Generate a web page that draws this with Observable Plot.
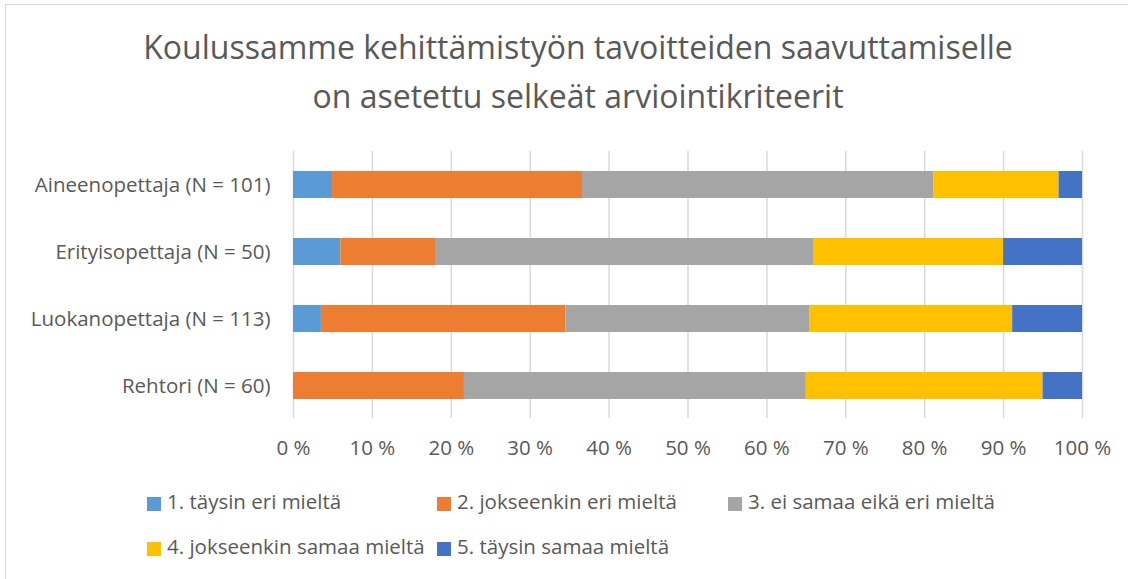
<!DOCTYPE html>
<html><head><meta charset="utf-8">
<script src="https://cdn.jsdelivr.net/npm/d3@7"></script>
<script src="https://cdn.jsdelivr.net/npm/@observablehq/plot@0.6"></script>
<style>
body{margin:0;background:#fff;font-family:"Open Sans",sans-serif;width:1128px;height:579px;overflow:hidden;position:relative}
#frame{position:absolute;left:5px;top:4px;width:1200px;height:600px;border:1.5px solid #d9d9d9;box-sizing:border-box}
#title{position:absolute;left:0;width:1156px;top:22px;text-align:center;font-size:32px;color:#595959;line-height:49px}
#chart{position:absolute;left:0;top:140px}
.leg{position:absolute;font-size:20.5px;color:#595959;white-space:nowrap;line-height:20px}
.sw{position:absolute;left:0;top:3px;width:14px;height:14px}
.lt{position:absolute;left:20px;top:-3px}
</style></head>
<body>
<div id="frame"></div>
<div id="title">Koulussamme kehittämistyön tavoitteiden saavuttamiselle<br>on asetettu selkeät arviointikriteerit</div>
<div id="chart"></div>
<div id="legend"></div>
<script>
const categories = ["Aineenopettaja (N = 101)", "Erityisopettaja (N = 50)", "Luokanopettaja (N = 113)", "Rehtori (N = 60)"];
const series = ["1. täysin eri mieltä", "2. jokseenkin eri mieltä", "3. ei samaa eikä eri mieltä", "4. jokseenkin samaa mieltä", "5. täysin samaa mieltä"];
const colors = ["#5B9BD5", "#ED7D31", "#A5A5A5", "#FFC000", "#4472C4"];
// response counts per category (same order as categories)
const s1 = [5, 3, 4, 0];
const s2 = [32, 6, 35, 13];
const s3 = [45, 24, 35, 26];
const s4 = [16, 12, 29, 18];
const s5 = [3, 5, 10, 3];
const xTicks = [0, 0.1, 0.2, 0.3, 0.4, 0.5, 0.6, 0.7, 0.8, 0.9, 1];

const seriesValues = [s1, s2, s3, s4, s5];
const table = [];
series.forEach((s, i) => categories.forEach((c, j) => table.push({category: c, series: s, value: seriesValues[i][j]})));

const chart = Plot.plot({
  width: 1128, height: 340,
  marginLeft: 293, marginRight: 46, marginTop: 11, marginBottom: 62,
  x: {domain: [0, 1], ticks: xTicks, tickFormat: d => Math.round(d * 100) + " %", tickSize: 0, tickPadding: 22, label: null},
  y: {domain: categories, paddingInner: 0.6, paddingOuter: 0.29, tickSize: 0, tickPadding: 23, label: null},
  color: {domain: series, range: colors},
  style: {fontFamily: "Open Sans", fontSize: "20.5px", color: "#595959", background: "transparent"},
  marks: [
    Plot.gridX(xTicks, {stroke: "#d9d9d9", strokeWidth: 1.5, strokeOpacity: 1}),
    Plot.barX(table, Plot.stackX({x: "value", y: "category", fill: "series", offset: "normalize", order: series}))
  ]
});
document.getElementById("chart").appendChild(chart);

const legPos = [[147, 494], [437, 494], [728, 494], [147, 539], [437, 539]];
const legend = document.getElementById("legend");
series.forEach((s, i) => {
  const d = document.createElement("div");
  d.className = "leg";
  d.style.left = legPos[i][0] + "px";
  d.style.top = legPos[i][1] + "px";
  d.innerHTML = `<span class="sw" style="background:${colors[i]}"></span><span class="lt">${s}</span>`;
  legend.appendChild(d);
});
</script>
</body></html>
